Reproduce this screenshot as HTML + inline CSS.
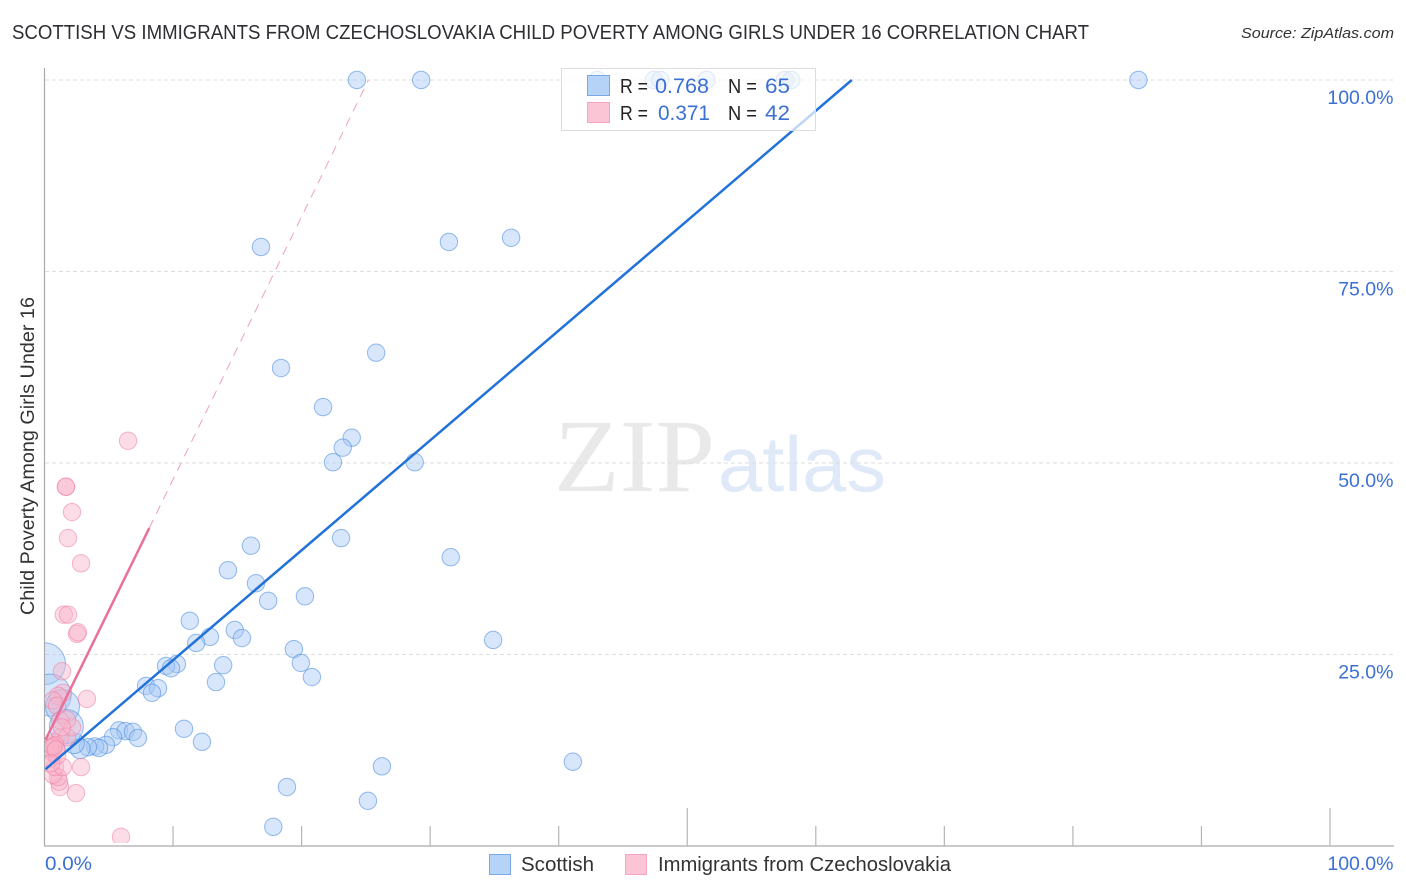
<!DOCTYPE html>
<html>
<head>
<meta charset="utf-8">
<style>
html,body{margin:0;padding:0;background:#fff;}
svg{display:block;font-family:"Liberation Sans",sans-serif;}
</style>
</head>
<body>
<svg id="chart" width="1406" height="892" viewBox="0 0 1406 892" xmlns="http://www.w3.org/2000/svg">
  <defs><clipPath id="plot-clip"><rect x="45" y="60" width="1349" height="783"/></clipPath></defs>
  <text x="12" y="39" font-size="20" fill="#2e2e33" textLength="1077" lengthAdjust="spacingAndGlyphs">SCOTTISH VS IMMIGRANTS FROM CZECHOSLOVAKIA CHILD POVERTY AMONG GIRLS UNDER 16 CORRELATION CHART</text>
  <text x="1394" y="38" font-size="15" font-style="italic" fill="#333" text-anchor="end" textLength="153" lengthAdjust="spacingAndGlyphs">Source: ZipAtlas.com</text>
  <text transform="translate(34,456) rotate(-90)" font-size="19" fill="#333" text-anchor="middle" textLength="318" lengthAdjust="spacingAndGlyphs">Child Poverty Among Girls Under 16</text>
  <g id="watermark">
    <text x="554" y="491" font-family="'Liberation Serif',serif" font-size="104" fill="#e9e9e9" textLength="161" lengthAdjust="spacingAndGlyphs">ZIP</text>
    <text x="718" y="491" font-size="78" fill="#dfe9f8" textLength="168" lengthAdjust="spacingAndGlyphs">atlas</text>
  </g>
  <g id="grid"></g>
  <g id="axes"></g>
  <g id="marks" clip-path="url(#plot-clip)"></g>
  <g id="trends"></g>
  <g id="labels"></g>
  <g font-size="20">
    <rect x="561.5" y="68.5" width="254" height="62" fill="#fff" fill-opacity="0.7" stroke="#dcdcdc" stroke-width="1"/>
    <rect x="587.5" y="75.5" width="22" height="20" fill="#b5d2f7" stroke="#78a8e6"/>
    <rect x="587.5" y="102.5" width="22" height="20" fill="#fcc5d6" stroke="#f2a6bf"/>
    <text x="620" y="93" fill="#222" textLength="28" lengthAdjust="spacingAndGlyphs">R =</text>
    <text x="655" y="93" fill="#3b70d2" font-size="21" textLength="54" lengthAdjust="spacingAndGlyphs">0.768</text>
    <text x="728" y="93" fill="#222" textLength="29" lengthAdjust="spacingAndGlyphs">N =</text>
    <text x="765" y="93" fill="#3b70d2" font-size="21" textLength="25" lengthAdjust="spacingAndGlyphs">65</text>
    <text x="620" y="120" fill="#222" textLength="28" lengthAdjust="spacingAndGlyphs">R =</text>
    <text x="658" y="120" fill="#3b70d2" font-size="21" textLength="52" lengthAdjust="spacingAndGlyphs">0.371</text>
    <text x="728" y="120" fill="#222" textLength="29" lengthAdjust="spacingAndGlyphs">N =</text>
    <text x="765" y="120" fill="#3b70d2" font-size="21" textLength="25" lengthAdjust="spacingAndGlyphs">42</text>
  </g>
  <g font-size="20" fill="#333">
    <rect x="489.5" y="854.5" width="21" height="20" fill="#b5d2f7" stroke="#78a8e6"/>
    <text x="521" y="871" textLength="73" lengthAdjust="spacingAndGlyphs">Scottish</text>
    <rect x="625.5" y="854.5" width="21" height="20" fill="#fcc5d6" stroke="#f2a6bf"/>
    <text x="658" y="871" textLength="293" lengthAdjust="spacingAndGlyphs">Immigrants from Czechoslovakia</text>
  </g>
</svg>
<script>
const yTicks = [25, 50, 75, 100];
const yTickLabels = ["25.0%", "50.0%", "75.0%", "100.0%"];
const xTicks = [10, 20, 30, 40, 50, 60, 70, 80, 90, 100];
const xMajorTicks = [50, 100];
const xEndLabels = ["0.0%", "100.0%"];

const scottishX = [24.3,29.3,43.0,47.4,47.9,51.5,57.6,58.1,85.1,16.84,31.46,36.3,25.8,18.4,21.67,23.9,23.2,22.44,28.8,23.07,16.06,31.6,14.27,16.45,17.4,20.26,11.3,14.8,12.87,15.36,11.8,19.4,34.9,19.94,10.3,9.45,9.84,13.9,20.8,13.34,7.9,8.83,8.36,10.85,12.25,5.8,6.3,6.88,7.27,5.33,4.78,3.93,4.24,3.38,2.77,2.3,26.25,41.1,18.86,25.16,17.8,0,0.44,1.4,1.7];
const scottishY = [100,100,100,100,100,100,100,100,100,78.2,78.85,79.4,64.4,62.4,57.3,53.3,52.0,50.1,50.1,40.2,39.2,37.7,36.0,34.3,32.0,32.6,29.4,28.2,27.3,27.15,26.5,25.7,26.9,23.9,23.76,23.5,23.2,23.6,22.06,21.4,20.9,20.6,20.0,15.3,13.6,15.1,15.0,14.9,14.1,14.2,13.2,13.0,12.8,12.9,12.7,13.4,10.4,11.0,7.7,5.9,2.5,23.8,19.7,18.2,15.6];
const scottishWeight = [1,1,1,1,1,1,1,1,1,1,1,1,1,1,1,1,1,1,1,1,1,1,1,1,1,1,1,1,1,1,1,1,1,1,1,1,1,1,1,1,1,1,1,1,1,1,1,1,1,1,1,1,1,1,1.3,1.4,1,1,1,1,1,5.8,5.8,3.8,3.8];

const immigrantsX = [6.5,1.67,1.67,2.14,1.83,2.84,1.5,1.83,2.53,2.6,1.36,3.3,2.45,1.2,1.13,1.05,0.66,0.82,1.42,0.66,0.58,0.82,0.66,0.43,0.98,1.21,1.75,2.14,2.84,5.95,1.44,1.05,0.66,0.98,0.82,1.21,0.43,0.66,1.75,1.36,0.9,0.5];
const immigrantsY = [52.9,46.9,46.9,43.6,40.2,36.9,30.2,30.2,27.7,27.9,22.8,19.2,6.9,7.7,8.4,9.0,9.3,10.3,10.3,12.9,12.3,13.5,12.2,11.4,11.8,14.1,14.2,15.5,10.3,1.2,20.0,19.6,19.0,18.3,13.2,16.4,12.8,13.0,16.5,15.5,12.6,10.8];

const scottishTrendX = [0, 62.8];
const scottishTrendY = [9.9, 100];
const immigrantsSolidX = [0, 8.15];
const immigrantsSolidY = [13.6, 41.5];
const immigrantsDashX = [8.15, 25.2];
const immigrantsDashY = [41.5, 100];

const NS = "http://www.w3.org/2000/svg";
function xScale(v) { return 44.5 + v * 12.855; }
function yScale(v) { return 846 - v * 7.66; }
function make(parent, tag, attrs, text) {
  const el = document.createElementNS(NS, tag);
  for (const k in attrs) el.setAttribute(k, attrs[k]);
  if (text !== undefined) el.textContent = text;
  parent.appendChild(el);
  return el;
}
const grid = document.getElementById("grid");
const axes = document.getElementById("axes");
const marks = document.getElementById("marks");
const trends = document.getElementById("trends");
const labels = document.getElementById("labels");

yTicks.forEach((t, i) => {
  const line = make(grid, "line", {x1: 45, x2: 1394, y1: yScale(t), y2: yScale(t), stroke: "#dedede", "stroke-width": 1, "stroke-dasharray": "4 3"});
  
  
  const label = make(labels, "text", {x: 1393.5, y: yScale(t) + 24, "font-size": 19.5, fill: "#3b70d2", "text-anchor": "end"}, yTickLabels[i]);
  
  
});

const yAxis = make(axes, "line", {x1: 44.5, x2: 44.5, y1: 68, y2: 846, stroke: "#aaa", "stroke-width": 1.2});


const xAxis = make(axes, "line", {x1: 44, x2: 1394, y1: 846, y2: 846, stroke: "#aaa", "stroke-width": 1.2});


xTicks.forEach(t => {
  const top = xMajorTicks.includes(t) ? 808 : 826;
  const tick = make(axes, "line", {x1: xScale(t), x2: xScale(t), y1: top, y2: 846, stroke: "#b5b5b5", "stroke-width": 1.2});
  
  
});
const x0Label = make(labels, "text", {x: 45, y: 870, "font-size": 19.5, fill: "#3b70d2", textLength: 47, lengthAdjust: "spacingAndGlyphs"}, xEndLabels[0]);


const x1Label = make(labels, "text", {x: 1393.5, y: 870, "font-size": 19.5, fill: "#3b70d2", "text-anchor": "end"}, xEndLabels[1]);



scottishX.forEach((x, i) => {
  const c = make(marks, "circle", {cx: xScale(x), cy: yScale(scottishY[i]), r: 8.7 * Math.sqrt(scottishWeight[i]), fill: "#a6c7f3", "fill-opacity": 0.45, stroke: "#4f8fe3", "stroke-opacity": 0.6, "stroke-width": 1});
  
  
});
immigrantsX.forEach((x, i) => {
  const c = make(marks, "circle", {cx: xScale(x), cy: yScale(immigrantsY[i]), r: 8.7, fill: "#f9b4ca", "fill-opacity": 0.45, stroke: "#ee7ea3", "stroke-opacity": 0.55, "stroke-width": 1});
  
  
});

const dashLine = make(trends, "line", {x1: xScale(immigrantsDashX[0]), y1: yScale(immigrantsDashY[0]), x2: xScale(immigrantsDashX[1]), y2: yScale(immigrantsDashY[1]), stroke: "#eea0ba", "stroke-width": 1, "stroke-dasharray": "9 7"});


const pinkLine = make(trends, "line", {x1: xScale(immigrantsSolidX[0]) + 1, y1: yScale(immigrantsSolidY[0]) - 2, x2: xScale(immigrantsSolidX[1]), y2: yScale(immigrantsSolidY[1]), stroke: "#e8709b", "stroke-width": 2.5});


const blueLine = make(trends, "line", {x1: xScale(scottishTrendX[0]) + 1, y1: yScale(scottishTrendY[0]) - 1, x2: xScale(scottishTrendX[1]), y2: yScale(scottishTrendY[1]), stroke: "#2272d9", "stroke-width": 2.5});


</script>
</body>
</html>
